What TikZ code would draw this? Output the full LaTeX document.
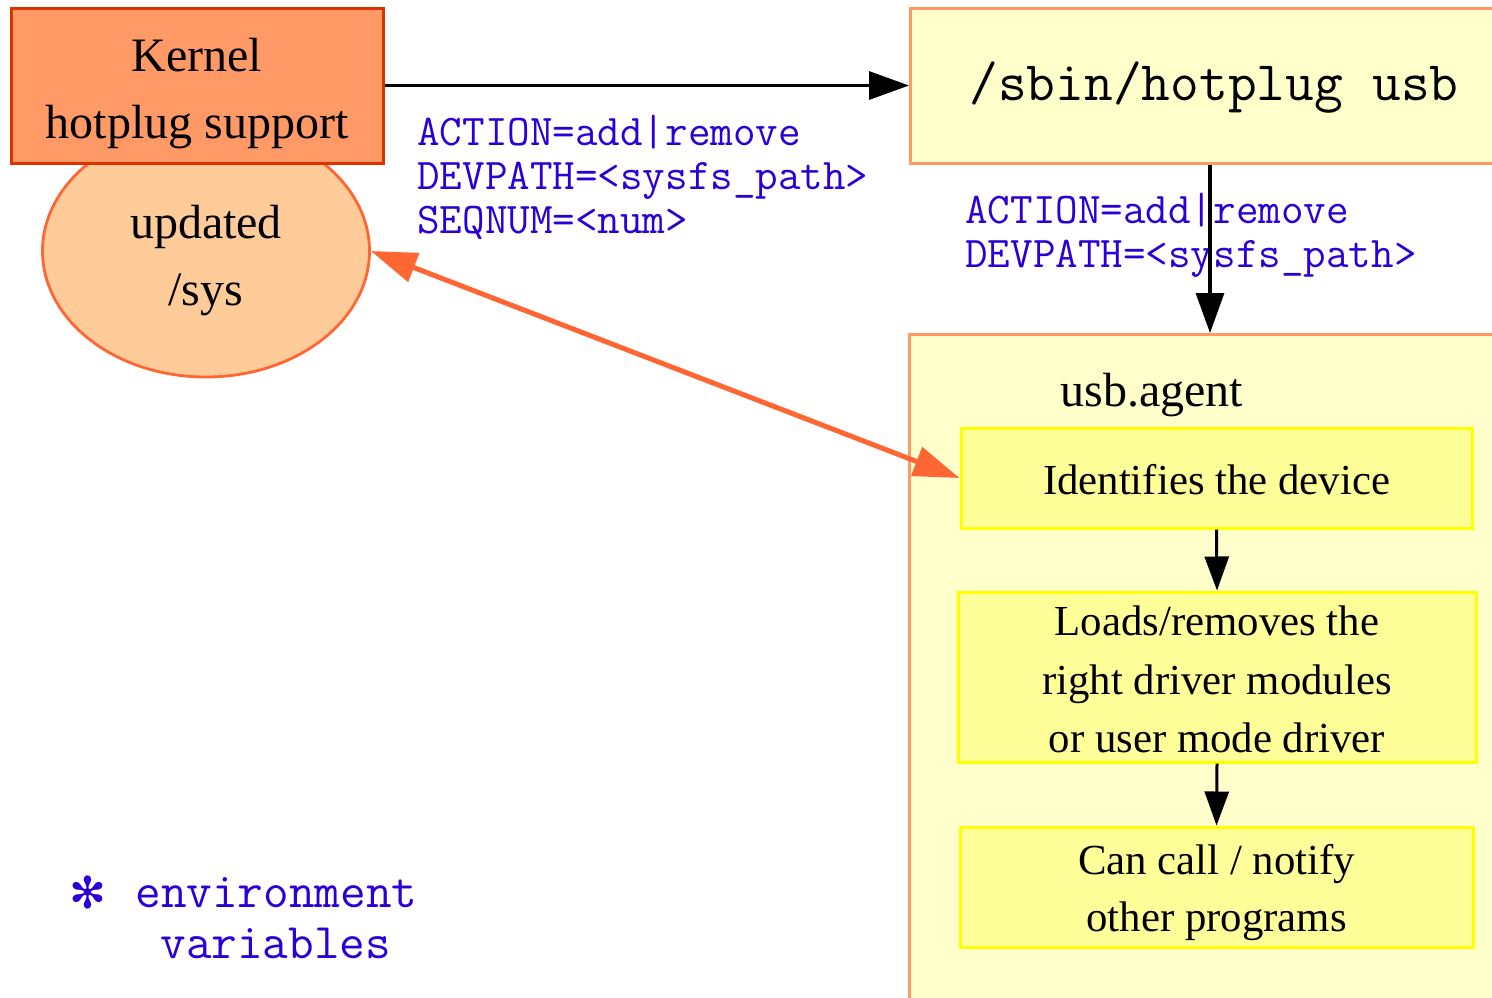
\documentclass[tikz,border=0pt]{standalone}
\usepackage{fontspec}
\setmainfont{Liberation Serif}
\newfontfamily\symfont{DejaVu Sans}
\usetikzlibrary{arrows.meta,shapes.geometric}

\definecolor{kernelfill}{HTML}{FF9966}
\definecolor{kerneldraw}{HTML}{DD3300}
\definecolor{sysfill}{HTML}{FFCC99}
\definecolor{sysdraw}{HTML}{FF6633}
\definecolor{scriptfill}{HTML}{FFFFCC}
\definecolor{scriptdraw}{HTML}{FF9966}
\definecolor{stepfill}{HTML}{FFFF99}
\definecolor{stepdraw}{HTML}{FFFF00}
\definecolor{envblue}{HTML}{2B00D6}

% centred lines whose first baseline sits #1 above the node centre
\newcommand{\shifted}[2]{\raisebox{#1}[0pt][0pt]{\begin{tabular}[t]{@{}c@{}}#2\end{tabular}}}

\tikzset{
  kernelbox/.style={draw=kerneldraw, fill=kernelfill, line width=1.5pt,
    minimum width=186pt, minimum height=77.5pt, inner sep=0pt,
    font=\fontsize{24}{33.3}\selectfont},
  sysnode/.style={ellipse, draw=sysdraw, fill=sysfill, line width=1.4pt,
    minimum width=163.5pt, minimum height=126pt, inner sep=0pt,
    font=\fontsize{24}{33.5}\selectfont},
  scriptbox/.style={draw=scriptdraw, fill=scriptfill, line width=1.5pt},
  stepbox/.style={draw=stepdraw, fill=stepfill, line width=1.5pt,
    inner sep=0pt},
  envtext/.style={text=envblue, inner sep=0pt, align=left,
    font=\ttfamily\fontsize{21.9}{22}\selectfont},
  flow/.style={draw=black, line width=1.6pt,
    -{Triangle[length=20pt,width=14pt]}},
  smallflow/.style={draw=black, line width=1.5pt,
    -{Triangle[length=17pt,width=12pt]}},
  sysflow/.style={draw=sysdraw, line width=2.5pt,
    {Triangle[length=23pt,width=15pt]}-{Triangle[length=23pt,width=15pt]}},
}

\begin{document}
\begin{tikzpicture}[x=0.5pt,y=-0.5pt]
  \path[use as bounding box, clip] (0,0) rectangle (1492,997);

  % sysfs ellipse sits behind the kernel box
  \node[sysnode] (sys) at (206,251) {\shifted{6.5pt}{updated\\/sys}};
  \node[kernelbox] (kernel) at (197,85.5) {\shifted{6.9pt}{Kernel\\hotplug support}};

  % /sbin/hotplug script, running past the right edge
  \node[scriptbox, anchor=west, text width=290pt, align=left,
        inner xsep=29.5pt, inner ysep=0pt, minimum height=77.5pt,
        font=\ttfamily\fontsize{27.9}{30}\selectfont] (hotplug) at (909,85.5)
        {\raisebox{-7.25pt}[0pt][0pt]{/sbin/hotplug\hspace*{0.525em}usb}};

  % usb.agent container
  \node[scriptbox, anchor=north west, minimum width=320pt,
        minimum height=350pt, inner sep=0pt] (agent) at (908,333) {};
  \node[anchor=base west, inner sep=0pt, font=\fontsize{24}{30}\selectfont]
       (agentname) at (1060,406) {usb.agent};

  % steps inside the agent
  \node[stepbox, minimum width=255.5pt, minimum height=50pt,
        font=\fontsize{21.4}{29.3}\selectfont] (ident) at (1216.5,478)
       {\shifted{-8.15pt}{Identifies the device}};
  \node[stepbox, minimum width=259pt, minimum height=85pt,
        font=\fontsize{21.4}{29.2}\selectfont] (loads) at (1217,677)
       {\shifted{20.65pt}{Loads/removes the\\right driver modules\\or user mode driver}};
  \node[stepbox, minimum width=256.5pt, minimum height=60pt,
        font=\fontsize{21.4}{28.8}\selectfont] (notify) at (1216.5,887)
       {\shifted{6.35pt}{Can call / notify\\other programs}};

  % event variables
  \node[envtext, anchor=west] (vars1) at (417,177)
       {ACTION=add|remove\\DEVPATH=<sysfs\_path>\\SEQNUM=<num>};
  \node[envtext, anchor=west] (vars2) at (965,235.5)
       {ACTION=add|remove\\DEVPATH=<sysfs\_path>};

  % connectors
  \coordinate (drop) at (1210,0);
  \draw[flow] (kernel.east) -- (hotplug.west);
  \draw[flow] (hotplug.south -| drop) -- (agent.north -| drop);
  \draw[smallflow] (ident.south) -- (loads.north);
  \draw[smallflow] (loads.south) -- (notify.north);
  \draw[sysflow] (sys.east) -- (ident.west);

  % legend
  \node[text=envblue, inner sep=0pt, font=\symfont\fontsize{22}{24}\selectfont]
       (star) at (88,892) {✻};
  \node[envtext, anchor=west, font=\ttfamily\fontsize{24.9}{25}\selectfont]
       (legend1) at (135,893) {environment};
  \node[envtext, anchor=west, font=\ttfamily\fontsize{24.9}{25}\selectfont]
       (legend2) at (160,943) {variables};
\end{tikzpicture}
\end{document}
